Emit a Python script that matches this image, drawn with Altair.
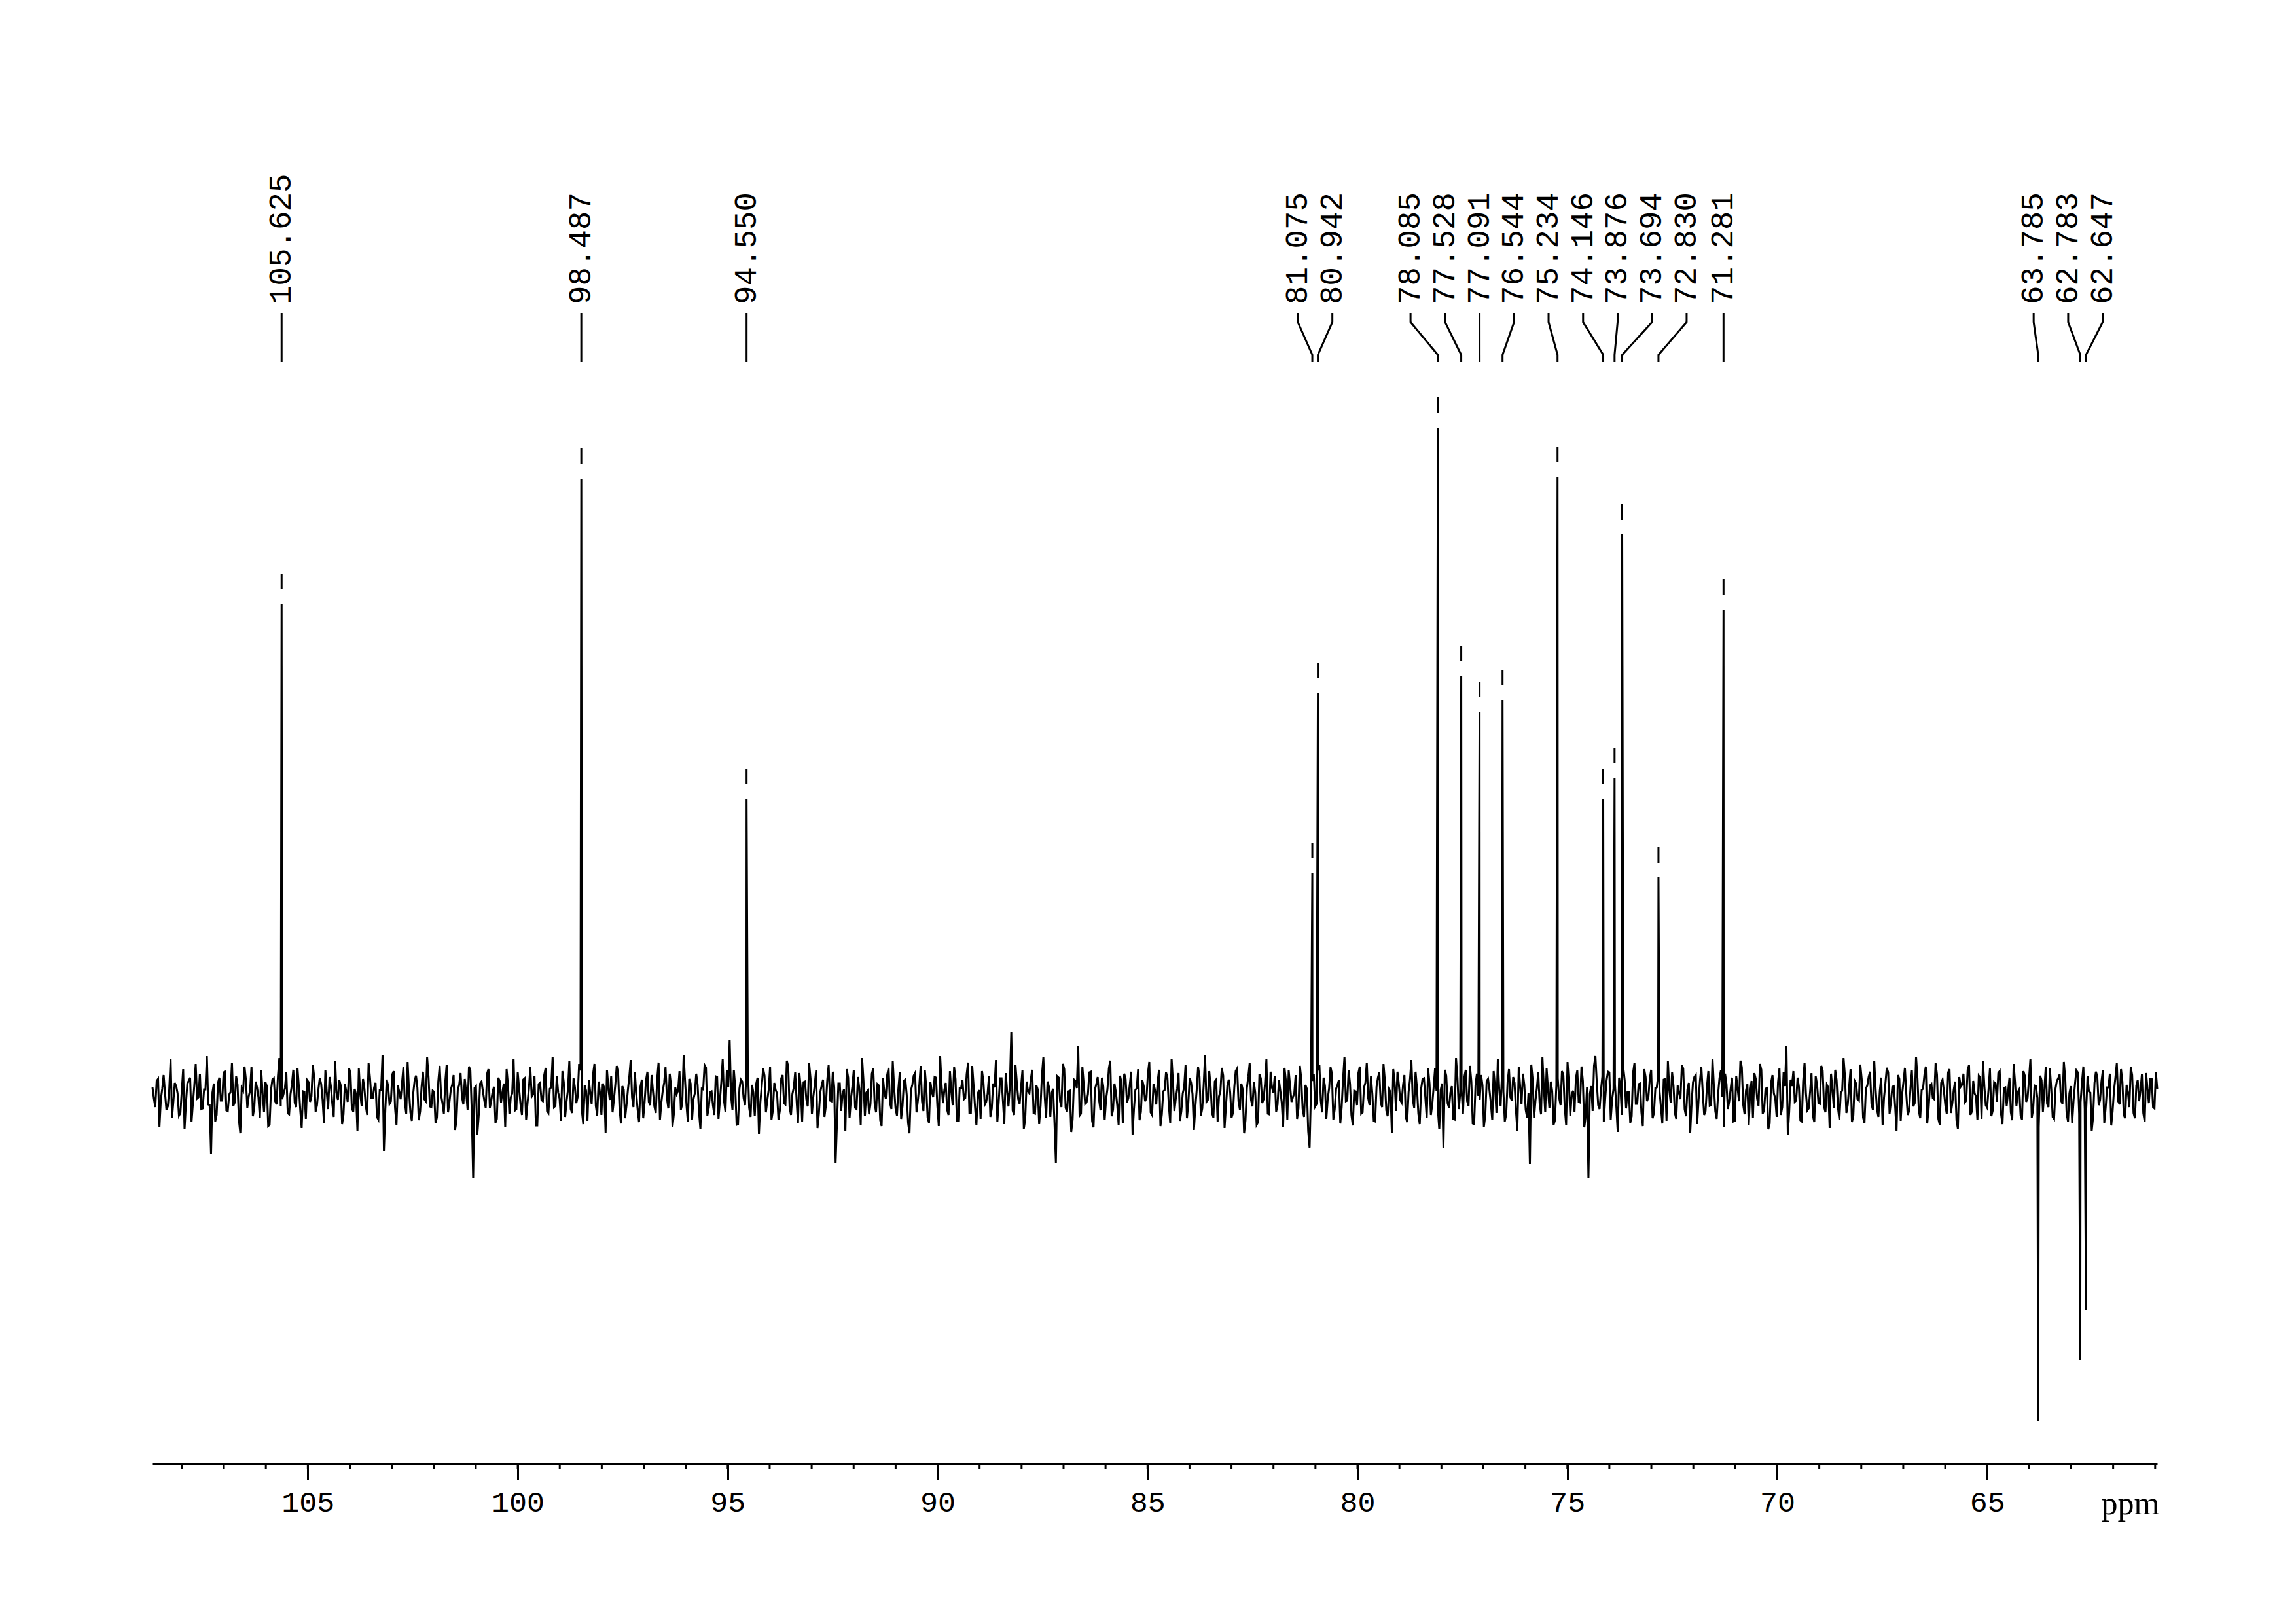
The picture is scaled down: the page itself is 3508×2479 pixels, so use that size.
import altair as alt
import pandas as pd
import numpy as np

# ---------------- data ----------------
peak_ppm = [105.625, 98.487, 94.550, 81.075, 80.942, 78.085, 77.528, 77.091,
            76.544, 75.234, 74.146, 73.876, 73.694, 72.830, 71.281,
            63.785, 62.783, 62.647]
peak_height = [751, 942, 453, 340, 615, 1020, 641, 586,
               604, 945, 453, 485, 857, 333, 742,
               -498, -405, -328]

minor_ticks = list(range(61, 109))
major_ticks = [65, 70, 75, 80, 85, 90, 95, 100, 105]

noise = [
    12, -18, 25, -6, 31, -22, 8, -35, 19, 3, -27, 40, -12, 22, -41, 15, -5, 33, -20, 9,
    -14, -90, 18, -30, 27, -8, 36, -24, 5, -16, 29, -38, 11, 44, -19, 7, -32, 21, -3, 38,
    -26, 14, -45, 24, -9, 30, -17, 2, 35, -29, 16, -11, 42, -23, 6, -36, 20, -2, 28, -15,
    26, -7, 39, -21, 13, -33, 4, 23, -44, 17, -10, 34, -25, 1, 41, -16, 10, -30, 27, -4,
    19, -37, 8, -85, 24, -13, 32, -20, 15, -6, 43, -28, 7, -39, 22, 12, -24, 36, -9, 28,
    -18, 5, -34, 45, -12, 20, -26, 9, 31, -40, 16, -3, 25, -22, 38, -127, 14, -31, 21, -8,
    33, -19, 6, -42, 27, -11, 18, 40, -29, 3, -23, 35, -14, 24, -37, 10, -2, 30, -46, 19,
    -9, 42, -27, 12, -18, 29, -5, 37, -33, 8, -21, 26, -12, 48, -24, 15, -39, 4, 32, -16,
    21, -30, 11, 39, -7, -26, 17, 34, -43, 9, -15, 28, -3, 36, -22, 13, -35, 23, -10, 31,
    -17, 25, -38, 7, 43, -20, 14, -28, 2, 37, -13, 22, -41, 18, -6, 33, -25, 10, 46, -31,
    5, -15, 29, -36, 20, -9, 39, 85, -22, 11, -44, 24, -4, 35, -19, 16, -32, 27, -11, 41,
    -26, 8, -37, 19, 3, -23, 31, -14, 44, -30, 12, -7, 34, -40, 21, -17, 26, -2, 38, -28,
    15, -33, 23, -8, 36, -103, 18, -24, 9, 40, -35, 13, -19, 28, -45, 22, 4, -29, 33, -12,
    17, -38, 26, -5, 42, -21, 10, -31, 35, -16, 24, -42, 7, 30, -26, 14, -9, 39, -34, 20,
    -3, 27, -47, 16, 8, -22, 37, -15, 25, -39, 11, -6, 32, -27, 45, -18, 3, -36, 21, -10,
    29, -20, 12, -41, 26, -8, 34, -17, 96, -30, 19, -13, 38, -36, 6, 24, -27, 15, -44, 31,
    -2, 21, -33, 10, -103, 27, -18, 40, -25, 7, -37, 22, 76, -28, 16, -11, 35, -39, 9, 28,
    -23, 13, -6, 41, -32, 18, -15, 30, -43, 25, -4, 36, -21, 11, -38, 23, -9, 33, -26, 17,
    -14, 39, -29, 8, 27, -42, 19, -5, 34, -24, 12, -35, 26, 2, -19, 43, -31, 15, -10, 37,
    -27, 21, -40, 6, 30, -16, 24, -34, 13, 41, -22, 9, -38, 28, -7, 20, -45, 32, -12, 17,
    -28, 36, 4, -25, 23, -11, 42, -37, 14, -3, 31, -20, 26, -33, 10, -80, 22, -17, 38, -8,
    27, -36, 11, 33, -21, 16, -43, 25, -9, 38, -30, 7, -15, 44, -26, 19, -4, 29, -39, 13,
    35, -18, 22, -32, 5, 40, -24, 17, -11, 31, -41, 24, -6, 36, -28, 10, 26, -35, 18, -13,
    42, -22, 8, -80, 30, -19, 14, -37, 27, 3, -29, 39, -16, 21, -44, 33, -7, 15, -31, 25,
    -12, 37, -27, 9, 32, -40, 20, -3, 28, -23, 43, -14, 16, -34, -105, 24, -8, 35, -29, 12,
    41, -20, 6, -38, 26, -15, 31, -45, 18, 2, -25, 38, -11, 22, -33, -127, 14, 45, 19, -21,
    29, -6, 36, -37, 10, -17, 27, -30, 23, 5, -42, 34, -13, 17, -26, 40, -9, 25, -35, 11,
    30, -18, 24, -39, 8, 35, -27, 15, -6, 41, -32, 19, -12, 28, -44, 22, 4, -24, 37, -15,
    13, -36, 26, -2, 33, -21, 10, -40, 29, -9, 43, -29, 17, 6, -34, 25, -16, 39, -23, 11,
    -43, 31, -5, 20, -30, 36, 76, -25, 14, -10, 27, -38, 21, 3, -20, 34, -41, 16, -13, 38,
    -26, 12, 33, -19, 23, -37, 7, 29, -14, 40, -31, 18, -8, 25, -42, 15, 36, -22, 9, -33,
    27, -4, 42, -28, 13, -17, 31, -39, 21, 2, -24, 38, -12, 26, -35, 10, 44, -21, 17, -6,
    32, -45, 24, -15, 35, -27, 8, -38, 28, 16, -11, 39, -30, 22, -2, 30, -36, 14, -19, 41,
    -23, 18, 34, -29, 11, -16, 27, -38, 20, 5, -31, 37, -10, 24, -34, 15, -4, 30, -25, 43,
    -18, 9, -36, 22, 32, -13, 26, -40, 14, -7, 38, -28, 19, -21, 29, 4, -33, 36, -15, 21,
    -42, 12, 33, -24, 27, -9, 40, -30, 16, -18, 31, -35, 23, 7, -27, 34, -12, 25, -20, 10,
]

noise_mid = [
    -5, 22, -48, 10, 3, -17, 55, -9, 14, -31, 6, -52, 18, 27, -12, 48, -3, -21, 9, 60,
    -15, 4, -40, 19, -8, 35, -23, 1, 50, -11, 16, -58, 7, 24, -2, 44, -19, 12, -35, 3,
    20, -47, 8, 26, -14, 57, -6, 11, -27, 2, 39, -18, 13, -50, 5, 23, -10, 46, -25, 9,
    17, -43, 4, 28, -13, 53, -7, 15, -29, 6, 41, -20, 10, -55, 2, 25, -16, 49, -4, 12,
    -33, 8, 62, -22, 14, -9, 37, -45, 5, 19, -11, 51, -26, 3, 30, -38, 13, -6, 58, -17,
    7, -42, 21, 0, -28, 47, -10, 16, -53, 9, 34, -14, 4, 44, -24, 11, -60, 18, 6, -19,
    40, -8, 13, -36, 22, 5, -49, 15, -3, 56, -21, 9, -30, 26, -12, 43, 1, -46, 17, -7,
    31, -24, 10, 59, -16, 4, -39, 20, -9, 52, -27, 12, -2, 38, -44, 7, 23, -13, 48, -31,
    3, 18, -57, 11, 29, -6, 45, -20, 14, -35, 8, 54, -18, 2, -41, 24, -10, 36, -15, 6,
    -27, 50, -11, 19, -4, 33, -48, 12, 7, -22, 61, -14, 25, -38, 3, 16, -52, 9, 42, -19,
    6, -30, 28, -8, 55, -25, 13, -1, 39, -45, 10, 21, -15, 47, -33, 4, 17, -59, 14, 30,
    -7, 44, -23, 8, -37, 26, -12, 53, -18, 2, 35, -43, 11, 20, -6, 49, -29, 15, -50, 5,
    24, -16, 46, -9, 12, -40, 18, 3, -55, 27, -5, 38, -21, 10, 57, -32, 7, -13, 41, -26,
    15, -47, 4, 31, -11, 52, -20, 9, -36, 22, 1, -58, 16, 34, -8, 45, -24, 13, -42, 6,
    28, -17, 60, -12, 19, -30, 5, 43, -39, 11, 23, -4, 50, -27, 14, -46, 8, 37, -14, 2,
    -33, 18, 54, -10, 26, -44, 7, 15, -23, 47, -6, 12, -51, 21, 3, 39, -28, 9, -16, 58,
    -35, 13, 4, -42, 29, -9, 48, -19, 6, -56, 24, 11, -31, 44, -13, 2, 36, -49, 17, -7,
    27, -38, 10, 53, -22, 5, -45, 20, 33, -11, 16, -60, 8, 40, -25, 14, -4, 51, -30, 9,
    21, -47, 6, 35, -15, 56, -24, 10, -39, 3, 46, -12, 19, -53, 8, 29, -20, 61, -7, 13,
    -34, 24, -2, 42, -50, 15, 5, -27, 37, -9, 18, -58, 11, 49, -17, 4, -41, 26, -6, 55,
    -29, 12, 30, -14, 7, -48, 22, 38, -10, 3, -36, 45, -21, 16, -55, 9, 32, -13, 47, -26,
    14, -5, 43, -37, 10, 23, -18, 59, -8, 17, -46, 6, 34, -28, 12, 50, -15, 2, -40, 27,
    -11, 48, -23, 9, -57, 20, 36, -7, 15, -33, 5, 54, -19, 11, -44, 25, -3, 41, -30, 13,
    7, -52, 18, 39, -12, 4, -36, 57, -21, 10, 28, -9, 45, -43, 16, -1, 31, -48, 22, 8,
    -38, 12, 55, -17, 6, -29, 40, -8, 19, -54, 14, 33, -22, 3, 47, -35, 11, -12, 58, -26,
    9, 21, -45, 16, -4, 37, -19, 51, -31, 7, 26, -10, 44, -49, 13, 2, -24, 60, -15, 8,
    -41, 23, 35, -6, 17, -56, 10, 42, -20, 5, -32, 49, -13, 18, -47, 28, -3, 39, -27, 12,
    6, -43, 25, 52, -11, 15, -36, 4, 46, -21, 9, -58, 20, 31, -7, 43, -30, 13, -16, 56,
    -24, 2, 38, -48, 17, -9, 27, -39, 11, 53, -14, 7, -45, 22, 34, -5, 48, -28, 10, -52,
    19, 3, -33, 41, -18, 14, -60, 24, 37, -8, 12, -40, 50, -23, 6, -31, 29, -12, 45, -17,
    16, -50, 9, 39, -19, 4, 57, -27, 13, -41, 22, -6, 47, -34, 10, 28, -13, 53, -22, 7,
    -46, 18, 35, -9, 14, -55, 25, 2, 42, -30, 11, -17, 59, -24, 8, 31, -43, 15, -4, 49,
    -36, 19, 6, -28, 40, -12, 21, -51, 13, 33, -8, 46, -25, 3, -38, 27, 52, -15, 9, -32,
    20, -10, 37, -44, 12, 5, -26, 48, -16, 9, -37, 30, -4, 55, -21, 14, -49, 23, 7, -13,
    41, -33, 10, 26, -8, 51, -28, 3, -42, 17, 35, -11, 44, -24, 6, -54, 19, 29, -7, 38,
    -19, 12, -46, 8, 49, -14, 21, -35, 4, 43, -27, 15, -9, 32, -40, 11, 25, -18, 36, -12,
]

# ---------------- layout parameters ----------------
X_MIN, X_MAX = 60.95, 108.7
W, H = 3063, 2035
Y_MIN, Y_MAX = -562, 1473
LABEL_SPACING = 0.822          # ppm between neighbouring peak labels
LABEL_BASE = 1208              # text start (bottom)
CONN = [1195, 1181, 1131, 1120]  # connector break points (top -> bottom)
MARK_GAP, MARK_LEN = 22, 24

# ---------------- spectrum trace ----------------
grid = np.linspace(X_MAX, X_MIN, len(noise))
n_mid = min(len(noise_mid), len(noise) - 1)
grid_mid = (grid[:-1] + grid[1:])[:n_mid] / 2.0
spec = pd.DataFrame({
    "ppm": np.concatenate([grid, grid_mid, np.array(peak_ppm)]),
    "inten": np.concatenate([np.array(noise, dtype=float),
                             np.array(noise_mid[:n_mid], dtype=float),
                             np.array(peak_height, dtype=float)]),
}).sort_values("ppm").reset_index(drop=True)

# ---------------- label positions (spread groups) ----------------
order = sorted(range(len(peak_ppm)), key=lambda i: -peak_ppm[i])
groups = [[i] for i in order]


def centre(g):
    return sum(peak_ppm[i] for i in g) / len(g)


def span(g):
    c = centre(g)
    n = len(g)
    return c + (n - 1) / 2 * LABEL_SPACING, c - (n - 1) / 2 * LABEL_SPACING


merged = True
while merged:
    merged = False
    for k in range(len(groups) - 1):
        if span(groups[k])[1] - span(groups[k + 1])[0] < LABEL_SPACING:
            groups[k] = groups[k] + groups[k + 1]
            del groups[k + 1]
            merged = True
            break

label_rows, conn_rows = [], []
for g in groups:
    c = centre(g)
    n = len(g)
    for j, i in enumerate(g):
        lx = c + ((n - 1) / 2 - j) * LABEL_SPACING
        label_rows.append({"ppm": lx, "y": LABEL_BASE, "txt": f"{peak_ppm[i]:.3f}"})
        pts = [(lx, CONN[0]), (lx, CONN[1]), (peak_ppm[i], CONN[2]), (peak_ppm[i], CONN[3])]
        for o, (px, py) in enumerate(pts):
            conn_rows.append({"id": i, "o": o, "ppm": px, "y": py})

labels_df = pd.DataFrame(label_rows)
conn_df = pd.DataFrame(conn_rows)

marks_df = pd.DataFrame([
    {"ppm": p, "lo": h + MARK_GAP, "hi": h + MARK_GAP + MARK_LEN}
    for p, h in zip(peak_ppm, peak_height) if h > 0
])
minor_df = pd.DataFrame({"ppm": minor_ticks})

# ---------------- scales / axes ----------------
xs = alt.Scale(domain=[X_MIN, X_MAX], reverse=True, nice=False, zero=False)
ys = alt.Scale(domain=[Y_MIN, Y_MAX], nice=False, zero=False)
xaxis = alt.Axis(
    values=major_ticks, format="d", tickSize=25, tickWidth=3, tickColor="black",
    domainColor="black", domainWidth=3, labelFont="Liberation Mono", labelFontSize=45,
    labelColor="black", labelPadding=12, grid=False, labelFlush=False, labelOverlap=False,
    title="ppm", titleFont="Liberation Serif", titleFontSize=50, titleFontWeight="normal",
    titleColor="black", titleAlign="right", titleAnchor="end", titleX=W + 3, titleY=77,
    titleBaseline="alphabetic",
)
X = alt.X("ppm:Q", scale=xs, axis=xaxis)

spectrum = alt.Chart(spec).mark_line(color="black", strokeWidth=3).encode(
    x=X, y=alt.Y("inten:Q", scale=ys, axis=None), order="ppm:Q"
)

minor = alt.Chart(minor_df).mark_rule(color="black", strokeWidth=3).encode(
    x=X, y=alt.value(H), y2=alt.value(H + 9)
)

peak_marks = alt.Chart(marks_df).mark_rule(color="black", strokeWidth=3).encode(
    x=X, y=alt.Y("lo:Q", scale=ys, axis=None), y2="hi:Q"
)

connectors = alt.Chart(conn_df).mark_line(color="black", strokeWidth=3).encode(
    x=X, y=alt.Y("y:Q", scale=ys, axis=None), detail="id:N", order="o:Q"
)

label_text = alt.Chart(labels_df).mark_text(
    angle=270, align="left", baseline="middle", font="Liberation Mono",
    fontSize=47.5, color="black"
).encode(x=X, y=alt.Y("y:Q", scale=ys, axis=None), text="txt:N")

chart = alt.layer(spectrum, minor, peak_marks, connectors, label_text).properties(
    width=W, height=H,
    autosize=alt.AutoSizeParams(type="none"),
    padding={"left": 225, "top": 192, "right": 200, "bottom": 150},
).configure_view(stroke=None)

chart.save("out.html", embed_options={"renderer": "svg", "actions": False})
